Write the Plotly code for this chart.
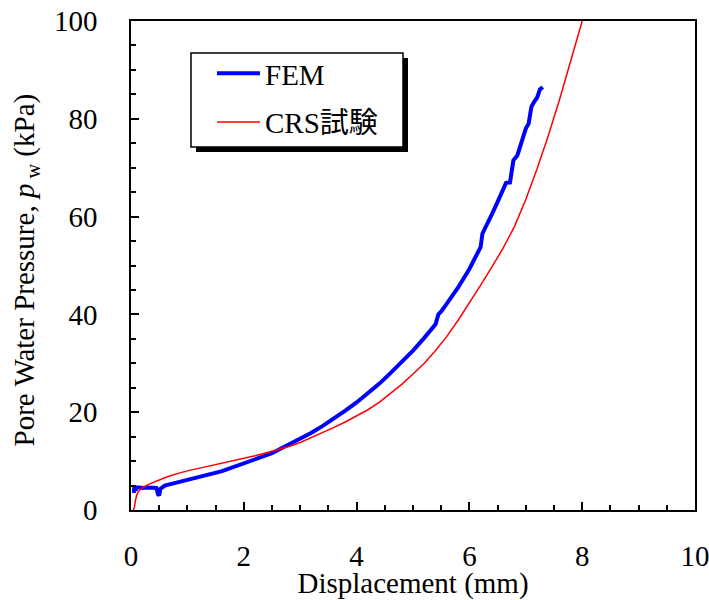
import plotly.graph_objects as go

fem_x = [0.05, 0.06, 0.08, 0.10, 0.15, 0.2, 0.3, 0.4, 0.45, 0.48, 0.5, 0.52, 0.6, 0.7, 0.8, 0.9,
         1.0, 1.1, 1.2, 1.3, 1.4, 1.5, 1.6, 1.7, 1.8, 1.9, 2.0, 2.1, 2.2, 2.3, 2.4, 2.5, 2.6,
         2.7, 2.8, 2.9, 3.0, 3.2, 3.4, 3.6, 3.8, 4.0, 4.2, 4.4, 4.6, 4.8, 5.0, 5.2, 5.4, 5.45,
         5.5, 5.6, 5.8, 6.0, 6.1, 6.2, 6.23, 6.3, 6.4, 6.5, 6.6, 6.65, 6.72, 6.78, 6.85, 6.95,
         7.0, 7.05, 7.1, 7.15, 7.2, 7.25, 7.3]
fem_y = [3.5, 4.8, 4.0, 4.6, 4.6, 4.5, 4.6, 4.6, 4.5, 3.2, 3.0, 4.3, 5.0, 5.3, 5.6, 5.7,
         6.1, 6.3, 6.7, 7.0, 7.2, 7.6, 7.9, 8.3, 8.7, 9.1, 9.4, 9.8, 10.2, 10.8, 11.2, 11.6, 12.2,
         12.8, 13.3, 13.9, 14.5, 15.8, 17.2, 18.7, 20.3, 22.0, 23.9, 25.8, 28.0, 30.2, 32.6, 35.2, 38.0, 40.0,
         40.6, 42.2, 45.5, 49.3, 51.5, 53.8, 56.5, 58.0, 60.5, 63.0, 65.5, 66.9, 67.0, 71.5, 72.5, 76.5,
         78.0, 79.0, 82.5, 83.5, 84.3, 86.0, 86.5]

crs_x = [0.04, 0.06, 0.08, 0.10, 0.13, 0.2, 0.3, 0.4, 0.5, 0.6, 0.7, 0.8, 0.9, 1.0, 1.2, 1.4,
         1.6, 1.8, 2.0, 2.2, 2.4, 2.6, 2.8, 3.0, 3.2, 3.4, 3.6, 3.8, 4.0, 4.2, 4.4, 4.6, 4.8,
         5.0, 5.2, 5.4, 5.6, 5.8, 6.0, 6.2, 6.4, 6.6, 6.8, 7.0, 7.2, 7.4, 7.6, 7.8, 8.0]
crs_y = [0.0, 0.5, 2.0, 3.0, 3.8, 4.5, 5.2, 5.7, 6.2, 6.6, 7.0, 7.4, 7.7, 8.0, 8.5, 9.0,
         9.5, 10.0, 10.5, 11.1, 11.7, 12.3, 13.0, 13.8, 14.8, 15.9, 16.9, 18.0, 19.2, 20.5, 22.0, 23.8, 25.7,
         27.8, 30.0, 32.6, 35.5, 38.8, 42.3, 46.0, 49.7, 53.6, 58.0, 63.5, 69.8, 76.6, 84.0, 92.0, 100.0]

series_names = ["FEM", "CRS試験"]
x_title = "Displacement (mm)"
y_title = "Pore Water Pressure, <i>p</i><sub> w</sub> (kPa)"

FONT = "Liberation Serif, Times New Roman, Noto Sans CJK JP, serif"
FS = 29

fig = go.Figure()
fig.add_trace(go.Scatter(x=fem_x, y=fem_y, mode="lines", name=series_names[0],
                         legendgroup="a", line=dict(color="#0000ff", width=4)))
fig.add_trace(go.Scatter(x=crs_x, y=crs_y, mode="lines", name=series_names[1],
                         legendgroup="b", line=dict(color="#ff0000", width=1.5)))

# legend box with drop shadow
fig.add_shape(type="rect", xref="paper", yref="paper",
              x0=(196 - 131) / 564, x1=(408 - 131) / 564,
              y0=(510 - 152) / 489, y1=(510 - 58) / 489,
              fillcolor="black", line=dict(width=0), layer="above")
fig.add_shape(type="rect", xref="paper", yref="paper",
              x0=(191 - 131) / 564, x1=(403 - 131) / 564,
              y0=(510 - 147) / 489, y1=(510 - 53) / 489,
              fillcolor="white", line=dict(color="black", width=1.5), layer="above")

# y-axis title placed as a rotated annotation
fig.add_annotation(text=y_title, xref="paper", yref="paper", x=0, y=0.5, xshift=-106, yshift=-5,
                   xanchor="center", yanchor="middle", textangle=-90, showarrow=False,
                   font=dict(family=FONT, size=FS, color="black"))

fig.update_layout(
    width=709, height=600,
    margin=dict(l=131, r=14, t=21, b=90),
    paper_bgcolor="white", plot_bgcolor="white",
    font=dict(family=FONT, size=FS, color="black"),
    showlegend=True,
    legend=dict(x=(212 - 131) / 564, y=(510 - 48) / 489, xanchor="left", yanchor="top",
                bgcolor="rgba(0,0,0,0)", borderwidth=0, tracegroupgap=8, itemwidth=43,
                font=dict(family=FONT, size=FS, color="black")),
    xaxis=dict(range=[0, 10], dtick=2, tick0=0, showline=True, linecolor="black", linewidth=2,
               mirror=True, ticks="inside", ticklen=8, tickwidth=2, tickcolor="black",
               minor=dict(dtick=0.5, ticks="inside", ticklen=5, tickwidth=2, tickcolor="black"),
               showgrid=False, zeroline=False, ticklabelstandoff=19, automargin=False,
               ticklabeloverflow="allow",
               title=dict(text=x_title, standoff=4, font=dict(size=FS))),
    yaxis=dict(range=[0, 100], dtick=20, tick0=0, showline=True, linecolor="black", linewidth=2,
               mirror=True, ticks="inside", ticklen=8, tickwidth=2, tickcolor="black",
               minor=dict(dtick=5, ticks="inside", ticklen=5, tickwidth=2, tickcolor="black"),
               showgrid=False, zeroline=False, automargin=False, ticksuffix="\u00a0\u00a0\u00a0",
               ticklabelstandoff=4, ticklabeloverflow="allow"),
)

fig.write_html("out.html", config={"displayModeBar": False},
               post_script="document.body.style.margin='0';")
